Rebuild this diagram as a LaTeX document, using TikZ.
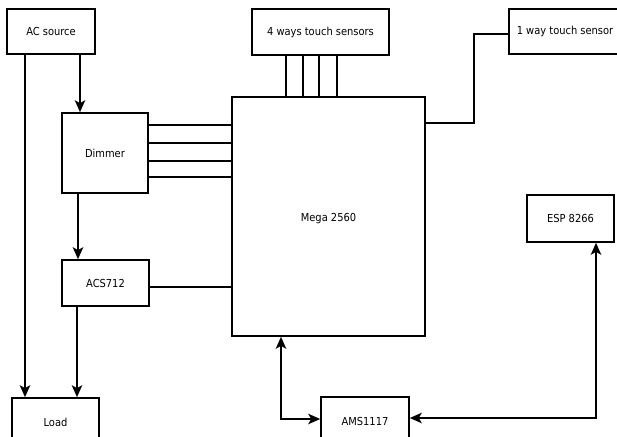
\documentclass[tikz,border=0pt]{standalone}
\usepackage{fontspec}
\setmainfont{DejaVu Sans Condensed}
\usetikzlibrary{arrows.meta}
\begin{document}
\begin{tikzpicture}[x=1pt,y=-1pt,
  box/.style={draw, line width=1.6pt, inner sep=0pt, font=\fontsize{11}{13}\selectfont},
  conn/.style={line width=1.6pt},
  arr/.style={conn,-{Stealth[length=12pt,width=10.5pt,inset=3pt]}},
  arrb/.style={conn,{Stealth[length=12pt,width=10.5pt,inset=3pt]}-{Stealth[length=12pt,width=10.5pt,inset=3pt]}}]
\path[use as bounding box] (0,0) rectangle (617,436);
\clip (0,0) rectangle (617,436);
\node[box, minimum width=88pt, minimum height=45pt] (ac) at (51,31.5) {AC source};
\node[box, minimum width=86pt, minimum height=80pt] (dim) at (105,153) {Dimmer};
\node[box, minimum width=87pt, minimum height=46pt] (acs) at (105.5,283) {ACS712};
\node[box, minimum width=87pt, minimum height=48pt] (load) at (55.5,422) {Load};
\node[box, minimum width=193pt, minimum height=239pt, text depth=0pt] (mega) at (328.5,216.5) {\raisebox{-2pt}{Mega 2560}};
\node[box, minimum width=137pt, minimum height=46pt] (four) at (320.5,32) {4 ways touch sensors};
\node[box, minimum width=112pt, minimum height=45pt] (one) at (565,31.5) {1 way touch sensor};
\node[box, minimum width=87pt, minimum height=47pt] (esp) at (570.5,218.5) {ESP 8266};
\node[box, minimum width=88pt, minimum height=48pt] (ams) at (365,421) {AMS1117};
% AC source
\draw[arr] (ac.south -| 80,0) -- (dim.north -| 80,0);
\draw[arr] (ac.south -| 25,0) -- (load.north -| 25,0);
% Dimmer
\draw[arr] (dim.south -| 78,0) -- (acs.north -| 78,0);
\foreach \yy in {125,143,161,177}
  \draw[conn] (dim.east |- 0,\yy) -- (mega.west |- 0,\yy);
% ACS712
\draw[arr] (acs.south -| 77,0) -- (load.north -| 77,0);
\draw[conn] (acs.east |- 0,287) -- (mega.west |- 0,287);
% touch sensors
\foreach \xx in {286,303,319,337}
  \draw[conn] (four.south -| \xx,0) -- (mega.north -| \xx,0);
\draw[conn] (mega.east |- 0,123) -| (474,34) -- (one.west |- 0,34);
% power
\draw[arrb] (mega.south -| 281,0) |- (ams.west |- 0,419);
\draw[arrb] (ams.east |- 0,418) -| (esp.south -| 596,0);
\end{tikzpicture}
\end{document}
